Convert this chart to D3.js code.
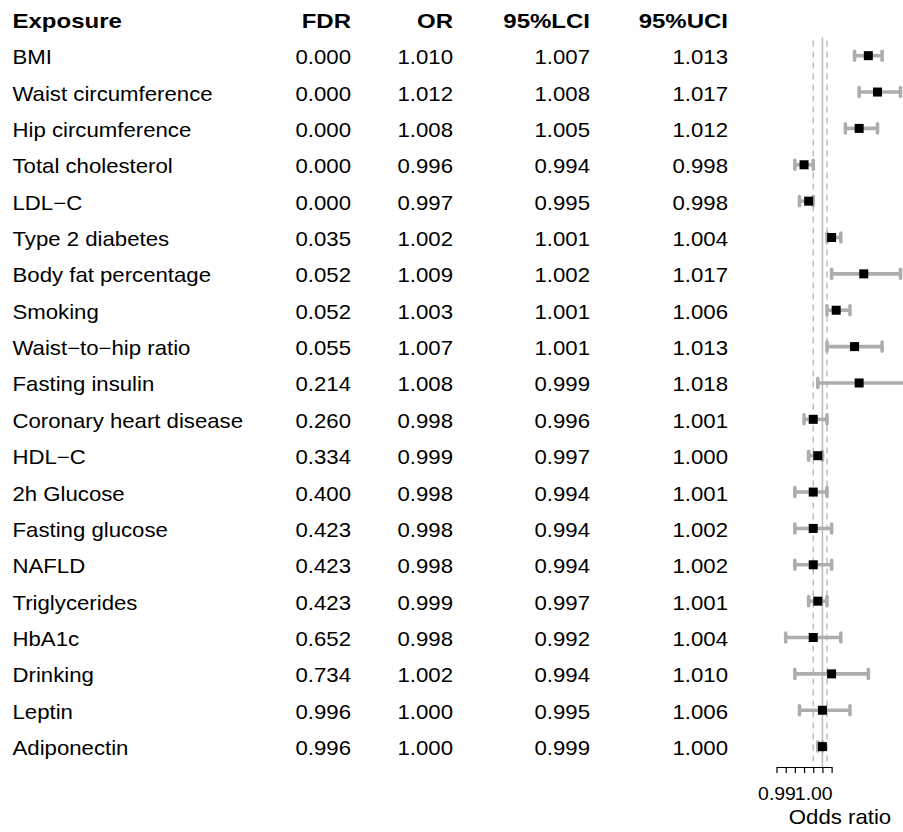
<!DOCTYPE html>
<html>
<head>
<meta charset="utf-8">
<script src="https://cdn.jsdelivr.net/npm/d3@7/dist/d3.min.js"></script>
<style>
  html, body { margin: 0; padding: 0; background: #fff; }
  svg { display: block; }
  text { font-family: "Liberation Sans", Arial, Helvetica, sans-serif; fill: #000; }
</style>
</head>
<body>
<script>
// ---------------- DATA ----------------
const exposures = ["BMI", "Waist circumference", "Hip circumference", "Total cholesterol", "LDL\u2212C",
  "Type 2 diabetes", "Body fat percentage", "Smoking", "Waist\u2212to\u2212hip ratio", "Fasting insulin",
  "Coronary heart disease", "HDL\u2212C", "2h Glucose", "Fasting glucose", "NAFLD",
  "Triglycerides", "HbA1c", "Drinking", "Leptin", "Adiponectin"];
const fdr = [0.000, 0.000, 0.000, 0.000, 0.000, 0.035, 0.052, 0.052, 0.055, 0.214,
  0.260, 0.334, 0.400, 0.423, 0.423, 0.423, 0.652, 0.734, 0.996, 0.996];
const or = [1.010, 1.012, 1.008, 0.996, 0.997, 1.002, 1.009, 1.003, 1.007, 1.008,
  0.998, 0.999, 0.998, 0.998, 0.998, 0.999, 0.998, 1.002, 1.000, 1.000];
const lci = [1.007, 1.008, 1.005, 0.994, 0.995, 1.001, 1.002, 1.001, 1.001, 0.999,
  0.996, 0.997, 0.994, 0.994, 0.994, 0.997, 0.992, 0.994, 0.995, 0.999];
const uci = [1.013, 1.017, 1.012, 0.998, 0.998, 1.004, 1.017, 1.006, 1.013, 1.018,
  1.001, 1.000, 1.001, 1.002, 1.002, 1.001, 1.004, 1.010, 1.006, 1.000];
const headers = ["Exposure", "FDR", "OR", "95%LCI", "95%UCI"];
const refLine = 1.000;
const dashedLines = [0.998, 1.001];
const tickValues = [0.990, 0.992, 0.994, 0.996, 0.998, 1.000, 1.002];
const labeledTicks = [0.990, 0.998];
const xTitle = "Odds ratio";

// ---------------- LAYOUT ----------------
const W = 903, H = 832;
const colX = [12.5, 351, 453, 590, 728];   // left edge for col 0, right edges for numeric cols
const sxBody = 1.11, sxHead = 1.2, fs = 20;
const fmt3 = d3.format(".3f");
const fmt2 = d3.format(".2f");

const svg = d3.select("body").append("svg").attr("width", W).attr("height", H);

const y = d3.scaleBand().domain(exposures).range([37.5, 764.8]).padding(0);
const yc = d => y(d) + y.bandwidth() / 2;
const headerY = y.range()[0] - y.bandwidth() / 2;

const x = d3.scaleLinear().domain([0.990, 1.002]).range([776.5, 831.6]);

function addText(g, px, py, str, anchor, bold, size, sx) {
  return g.append("text")
    .attr("transform", `translate(${px},${py}) scale(${sx},1)`)
    .attr("text-anchor", anchor)
    .style("font-size", size + "px")
    .style("font-weight", bold ? "bold" : "normal")
    .text(str);
}

// ---------------- TABLE ----------------
const tg = svg.append("g");
headers.forEach((h, j) => {
  addText(tg, colX[j], headerY + 8.7, h, j === 0 ? "start" : "end", true, fs, sxHead);
});
exposures.forEach((e, i) => {
  const by = yc(e) + 8.5;
  addText(tg, colX[0], by, e, "start", false, fs, sxBody);
  addText(tg, colX[1], by, fmt3(fdr[i]), "end", false, fs, sxBody);
  addText(tg, colX[2], by, fmt3(or[i]), "end", false, fs, sxBody);
  addText(tg, colX[3], by, fmt3(lci[i]), "end", false, fs, sxBody);
  addText(tg, colX[4], by, fmt3(uci[i]), "end", false, fs, sxBody);
});

// ---------------- FOREST ----------------
const lineTop = y.range()[0], axisY = 767;
const fg = svg.append("g");

dashedLines.forEach(v => {
  fg.append("line")
    .attr("x1", x(v)).attr("x2", x(v)).attr("y1", lineTop + 3).attr("y2", axisY)
    .attr("stroke", "#b4b4b4").attr("stroke-width", 1.3).attr("stroke-dasharray", "6,5");
});
fg.append("line")
  .attr("x1", x(refLine)).attr("x2", x(refLine)).attr("y1", lineTop).attr("y2", axisY)
  .attr("stroke", "#bdbdbd").attr("stroke-width", 1.6);

const ciColor = "#adadad";
const rows = fg.selectAll("g.row").data(exposures).join("g").attr("class", "row");
rows.append("line")
  .attr("x1", (d, i) => x(lci[i])).attr("x2", (d, i) => x(uci[i]))
  .attr("y1", d => yc(d)).attr("y2", d => yc(d))
  .attr("stroke", ciColor).attr("stroke-width", 3.6);
[lci, uci].forEach(arr => {
  rows.append("line")
    .attr("x1", (d, i) => x(arr[i])).attr("x2", (d, i) => x(arr[i]))
    .attr("y1", d => yc(d) - 4.5).attr("y2", d => yc(d) + 4.5)
    .attr("stroke", ciColor).attr("stroke-width", 3.6).attr("stroke-linecap", "round");
});
const sq = 9;
rows.append("rect")
  .attr("x", (d, i) => x(or[i]) - sq / 2).attr("y", d => yc(d) - sq / 2)
  .attr("width", sq).attr("height", sq).attr("fill", "#000");

// ---------------- AXIS ----------------
const isLabeled = v => labeledTicks.some(t => Math.abs(t - v) < 1e-9);
const axis = d3.axisBottom(x).tickValues(tickValues).tickSize(6).tickSizeOuter(0).tickPadding(15)
  .tickFormat(v => isLabeled(v) ? fmt2(v) : "");
const ag = svg.append("g").attr("transform", `translate(0,${axisY})`).call(axis);
ag.select(".domain").attr("stroke", "#000").attr("stroke-width", 1.2);
ag.selectAll(".tick line").attr("stroke", "#000").attr("stroke-width", 1.2);
ag.selectAll(".tick text")
  .attr("fill", "#000")
  .style("font-family", "'Liberation Sans', Arial, sans-serif")
  .style("font-size", "17.5px")
  .attr("transform", `scale(${sxBody},1)`);

addText(svg, 840, 824, xTitle, "middle", false, fs, sxBody);
</script>
</body>
</html>
